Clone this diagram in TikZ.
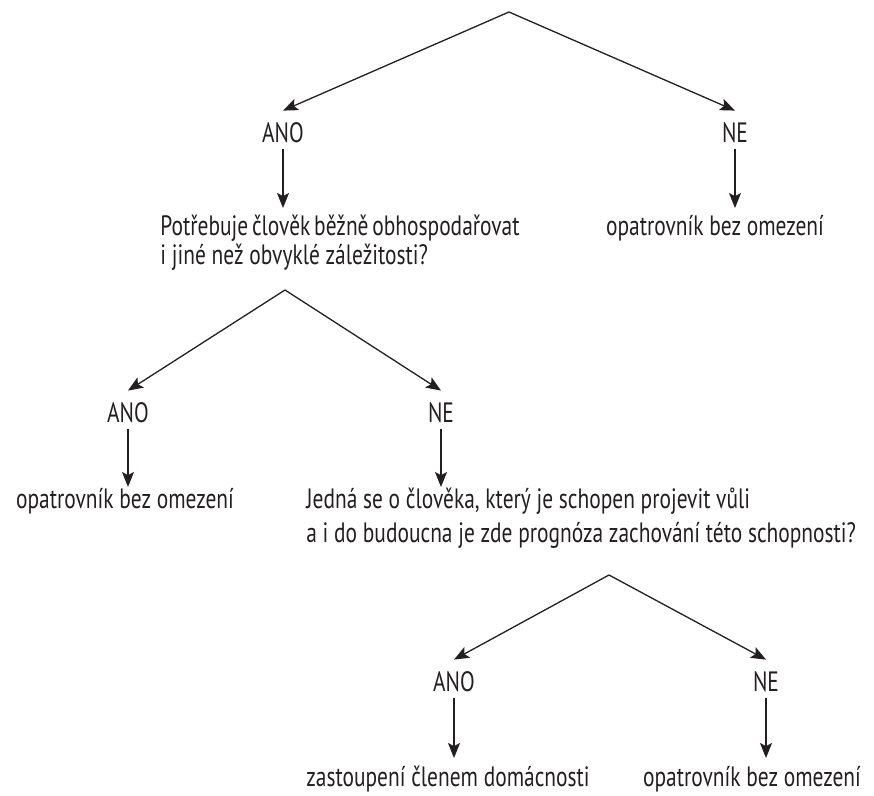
\documentclass[tikz,border=0pt]{standalone}
\usepackage{fontspec}
\setmainfont{PT Sans}[FakeStretch=0.765]
\usetikzlibrary{arrows.meta}
\definecolor{tiskcerna}{RGB}{35,31,32}

\begin{document}
\begin{tikzpicture}[
    x=0.5pt, y=-0.5pt,
    >={Stealth[length=7.5pt, width=6pt, inset=1.6pt]},
    font=\fontsize{14}{14}\selectfont,
    every node/.style={text=tiskcerna},
    spoj/.style={->, draw=tiskcerna, line width=0.65pt},
    volba/.style={anchor=base, inner sep=0pt, text height=16pt, text depth=3pt},
    vysledek/.style={anchor=north, inner sep=0pt, text height=13.5pt}
]

% Page frame
\useasboundingbox (0,0) rectangle (874,796);

% Branching points
\coordinate (vrchol1) at (509,12);
\coordinate (vrchol2) at (285,290);
\coordinate (vrchol3) at (609,575);

% First level
\node[volba] (ano1) at (283,143) {ANO};
\node[volba] (ne1) at (735,143) {NE};
\node[vysledek, anchor=north west] (otazka1) at (160,208) {%
    \begin{tabular}[t]{@{}l@{}}
    \makebox[179pt][s]{Potřebuje člověk běžně obhospodařovat}\\
    i jiné než obvyklé záležitosti?
    \end{tabular}};
\node[vysledek] (vysl1) at (715,208) {opatrovník bez omezení};

% Second level
\node[volba] (ano2) at (128,423) {ANO};
\node[volba] (ne2) at (441,423) {NE};
\node[vysledek, text height=10.5pt] (vysl2) at (125,487) {opatrovník bez omezení};
\node[vysledek, anchor=north west, text height=10.5pt] (otazka2) at (306,487) {%
    \begin{tabular}[t]{@{}l@{}}
    Jedná se o člověka, který je schopen projevit vůli\\[3pt]
    a i do budoucna je zde prognóza zachování této schopnosti?
    \end{tabular}};

% Third level
\node[volba] (ano3) at (454,692) {ANO};
\node[volba] (ne3) at (766,692) {NE};
\node[vysledek, text height=14pt] (vysl3) at (448,758) {zastoupení členem domácnosti};
\node[vysledek, text height=14pt] (vysl4) at (752,758) {opatrovník bez omezení};

% Arrows
\draw[spoj] (vrchol1) -- (ano1.north);
\draw[spoj] (vrchol1) -- (ne1.north);
\draw[spoj] (ano1.south) -- (ano1.south |- otazka1.north);
\draw[spoj] (ne1.south) -- (ne1.south |- vysl1.north);

\draw[spoj] (vrchol2) -- (ano2.north);
\draw[spoj] (vrchol2) -- (ne2.north);
\draw[spoj] (ano2.south) -- (ano2.south |- vysl2.north);
\draw[spoj] (ne2.south) -- (ne2.south |- otazka2.north);

\draw[spoj] (vrchol3) -- (ano3.north);
\draw[spoj] (vrchol3) -- (ne3.north);
\draw[spoj] (ano3.south) -- (ano3.south |- vysl3.north);
\draw[spoj] (ne3.south) -- (ne3.south |- vysl4.north);

\end{tikzpicture}
\end{document}
